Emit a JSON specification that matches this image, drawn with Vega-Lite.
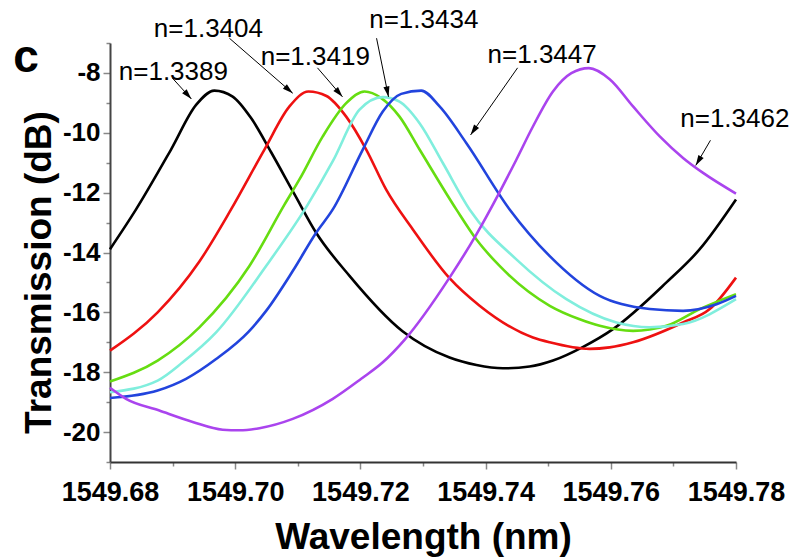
{
  "$schema": "https://vega.github.io/schema/vega-lite/v6.json",
  "width": 626,
  "height": 419,
  "autosize": {"type": "none"},
  "padding": {"left": 110, "top": 43, "right": 73, "bottom": 95},
  "background": "white",
  "config": {
    "view": {"stroke": null},
    "font": "Liberation Sans",
    "locale": {"number": {"decimal": ".", "thousands": ",", "grouping": [3], "currency": ["$", ""], "minus": "-"}}
  },
  "datasets": {
    "curves": [
      {"series": "n=1.3389", "wl": 1549.68000, "t": -13.89},
      {"series": "n=1.3389", "wl": 1549.68416, "t": -12.56},
      {"series": "n=1.3389", "wl": 1549.68975, "t": -10.56},
      {"series": "n=1.3389", "wl": 1549.69375, "t": -9.07},
      {"series": "n=1.3389", "wl": 1549.69667, "t": -8.59},
      {"series": "n=1.3389", "wl": 1549.69960, "t": -8.79},
      {"series": "n=1.3389", "wl": 1549.70254, "t": -9.51},
      {"series": "n=1.3389", "wl": 1549.70574, "t": -10.65},
      {"series": "n=1.3389", "wl": 1549.70946, "t": -12.05},
      {"series": "n=1.3389", "wl": 1549.71293, "t": -13.34},
      {"series": "n=1.3389", "wl": 1549.71826, "t": -14.78},
      {"series": "n=1.3389", "wl": 1549.72673, "t": -16.63},
      {"series": "n=1.3389", "wl": 1549.73424, "t": -17.51},
      {"series": "n=1.3389", "wl": 1549.73854, "t": -17.76},
      {"series": "n=1.3389", "wl": 1549.74276, "t": -17.87},
      {"series": "n=1.3389", "wl": 1549.74703, "t": -17.81},
      {"series": "n=1.3389", "wl": 1549.75076, "t": -17.61},
      {"series": "n=1.3389", "wl": 1549.75551, "t": -17.16},
      {"series": "n=1.3389", "wl": 1549.76035, "t": -16.56},
      {"series": "n=1.3389", "wl": 1549.76889, "t": -15.00},
      {"series": "n=1.3389", "wl": 1549.77421, "t": -13.89},
      {"series": "n=1.3389", "wl": 1549.78000, "t": -12.23},

      {"series": "n=1.3404", "wl": 1549.68000, "t": -17.28},
      {"series": "n=1.3404", "wl": 1549.68761, "t": -16.00},
      {"series": "n=1.3404", "wl": 1549.69428, "t": -14.30},
      {"series": "n=1.3404", "wl": 1549.69934, "t": -12.56},
      {"series": "n=1.3404", "wl": 1549.70467, "t": -10.56},
      {"series": "n=1.3404", "wl": 1549.70867, "t": -9.12},
      {"series": "n=1.3404", "wl": 1549.71170, "t": -8.62},
      {"series": "n=1.3404", "wl": 1549.71458, "t": -8.77},
      {"series": "n=1.3404", "wl": 1549.71773, "t": -9.46},
      {"series": "n=1.3404", "wl": 1549.72093, "t": -10.56},
      {"series": "n=1.3404", "wl": 1549.72412, "t": -11.90},
      {"series": "n=1.3404", "wl": 1549.72838, "t": -13.23},
      {"series": "n=1.3404", "wl": 1549.73424, "t": -14.86},
      {"series": "n=1.3404", "wl": 1549.73904, "t": -15.78},
      {"series": "n=1.3404", "wl": 1549.74756, "t": -16.84},
      {"series": "n=1.3404", "wl": 1549.75023, "t": -17.00},
      {"series": "n=1.3404", "wl": 1549.75663, "t": -17.22},
      {"series": "n=1.3404", "wl": 1549.75982, "t": -17.17},
      {"series": "n=1.3404", "wl": 1549.76355, "t": -17.00},
      {"series": "n=1.3404", "wl": 1549.77154, "t": -16.34},
      {"series": "n=1.3404", "wl": 1549.77581, "t": -15.89},
      {"series": "n=1.3404", "wl": 1549.78000, "t": -14.84},

      {"series": "n=1.3419", "wl": 1549.68000, "t": -18.31},
      {"series": "n=1.3419", "wl": 1549.68761, "t": -17.61},
      {"series": "n=1.3419", "wl": 1549.69428, "t": -16.50},
      {"series": "n=1.3419", "wl": 1549.70227, "t": -14.45},
      {"series": "n=1.3419", "wl": 1549.70787, "t": -12.40},
      {"series": "n=1.3419", "wl": 1549.71026, "t": -11.56},
      {"series": "n=1.3419", "wl": 1549.71399, "t": -10.12},
      {"series": "n=1.3419", "wl": 1549.71773, "t": -9.01},
      {"series": "n=1.3419", "wl": 1549.72066, "t": -8.62},
      {"series": "n=1.3419", "wl": 1549.72333, "t": -8.84},
      {"series": "n=1.3419", "wl": 1549.72625, "t": -9.46},
      {"series": "n=1.3419", "wl": 1549.72945, "t": -10.56},
      {"series": "n=1.3419", "wl": 1549.73532, "t": -12.56},
      {"series": "n=1.3419", "wl": 1549.73851, "t": -13.56},
      {"series": "n=1.3419", "wl": 1549.74224, "t": -14.45},
      {"series": "n=1.3419", "wl": 1549.75025, "t": -15.78},
      {"series": "n=1.3419", "wl": 1549.75503, "t": -16.23},
      {"series": "n=1.3419", "wl": 1549.75823, "t": -16.45},
      {"series": "n=1.3419", "wl": 1549.76355, "t": -16.62},
      {"series": "n=1.3419", "wl": 1549.76889, "t": -16.45},
      {"series": "n=1.3419", "wl": 1549.77421, "t": -15.89},
      {"series": "n=1.3419", "wl": 1549.78000, "t": -15.39},

      {"series": "n=1.3434", "wl": 1549.68000, "t": -18.67},
      {"series": "n=1.3434", "wl": 1549.68761, "t": -18.28},
      {"series": "n=1.3434", "wl": 1549.69161, "t": -17.67},
      {"series": "n=1.3434", "wl": 1549.69695, "t": -16.67},
      {"series": "n=1.3434", "wl": 1549.70494, "t": -14.45},
      {"series": "n=1.3434", "wl": 1549.71159, "t": -12.40},
      {"series": "n=1.3434", "wl": 1549.71559, "t": -10.95},
      {"series": "n=1.3434", "wl": 1549.71986, "t": -9.23},
      {"series": "n=1.3434", "wl": 1549.72358, "t": -8.81},
      {"series": "n=1.3434", "wl": 1549.72625, "t": -8.96},
      {"series": "n=1.3434", "wl": 1549.72945, "t": -9.68},
      {"series": "n=1.3434", "wl": 1549.73317, "t": -11.01},
      {"series": "n=1.3434", "wl": 1549.73744, "t": -12.56},
      {"series": "n=1.3434", "wl": 1549.74491, "t": -14.23},
      {"series": "n=1.3434", "wl": 1549.75290, "t": -15.56},
      {"series": "n=1.3434", "wl": 1549.76090, "t": -16.34},
      {"series": "n=1.3434", "wl": 1549.76622, "t": -16.50},
      {"series": "n=1.3434", "wl": 1549.77154, "t": -16.39},
      {"series": "n=1.3434", "wl": 1549.78000, "t": -15.56},

      {"series": "n=1.3447", "wl": 1549.68000, "t": -18.86},
      {"series": "n=1.3447", "wl": 1549.68761, "t": -18.61},
      {"series": "n=1.3447", "wl": 1549.69215, "t": -18.22},
      {"series": "n=1.3447", "wl": 1549.69695, "t": -17.56},
      {"series": "n=1.3447", "wl": 1549.70212, "t": -16.65},
      {"series": "n=1.3447", "wl": 1549.70494, "t": -15.95},
      {"series": "n=1.3447", "wl": 1549.70919, "t": -14.62},
      {"series": "n=1.3447", "wl": 1549.71293, "t": -13.34},
      {"series": "n=1.3447", "wl": 1549.71559, "t": -12.56},
      {"series": "n=1.3447", "wl": 1549.72038, "t": -10.56},
      {"series": "n=1.3447", "wl": 1549.72358, "t": -9.29},
      {"series": "n=1.3447", "wl": 1549.72652, "t": -8.70},
      {"series": "n=1.3447", "wl": 1549.72972, "t": -8.59},
      {"series": "n=1.3447", "wl": 1549.73265, "t": -9.12},
      {"series": "n=1.3447", "wl": 1549.73691, "t": -10.34},
      {"series": "n=1.3447", "wl": 1549.74384, "t": -12.56},
      {"series": "n=1.3447", "wl": 1549.75025, "t": -14.12},
      {"series": "n=1.3447", "wl": 1549.75823, "t": -15.45},
      {"series": "n=1.3447", "wl": 1549.76622, "t": -15.89},
      {"series": "n=1.3447", "wl": 1549.77154, "t": -15.95},
      {"series": "n=1.3447", "wl": 1549.77689, "t": -15.73},
      {"series": "n=1.3447", "wl": 1549.78000, "t": -15.45},

      {"series": "n=1.3462", "wl": 1549.68000, "t": -18.52},
      {"series": "n=1.3462", "wl": 1549.68256, "t": -18.89},
      {"series": "n=1.3462", "wl": 1549.68788, "t": -19.28},
      {"series": "n=1.3462", "wl": 1549.69321, "t": -19.66},
      {"series": "n=1.3462", "wl": 1549.69800, "t": -19.92},
      {"series": "n=1.3462", "wl": 1549.70067, "t": -19.94},
      {"series": "n=1.3462", "wl": 1549.70387, "t": -19.87},
      {"series": "n=1.3462", "wl": 1549.70919, "t": -19.56},
      {"series": "n=1.3462", "wl": 1549.71559, "t": -18.89},
      {"series": "n=1.3462", "wl": 1549.72013, "t": -18.22},
      {"series": "n=1.3462", "wl": 1549.72358, "t": -17.67},
      {"series": "n=1.3462", "wl": 1549.72705, "t": -16.92},
      {"series": "n=1.3462", "wl": 1549.73424, "t": -14.84},
      {"series": "n=1.3462", "wl": 1549.73851, "t": -13.40},
      {"series": "n=1.3462", "wl": 1549.74224, "t": -11.98},
      {"series": "n=1.3462", "wl": 1549.74491, "t": -10.90},
      {"series": "n=1.3462", "wl": 1549.74756, "t": -9.79},
      {"series": "n=1.3462", "wl": 1549.75076, "t": -8.62},
      {"series": "n=1.3462", "wl": 1549.75370, "t": -8.01},
      {"series": "n=1.3462", "wl": 1549.75651, "t": -7.84},
      {"series": "n=1.3462", "wl": 1549.75982, "t": -8.21},
      {"series": "n=1.3462", "wl": 1549.76355, "t": -9.12},
      {"series": "n=1.3462", "wl": 1549.76782, "t": -10.12},
      {"series": "n=1.3462", "wl": 1549.77154, "t": -10.84},
      {"series": "n=1.3462", "wl": 1549.77474, "t": -11.34},
      {"series": "n=1.3462", "wl": 1549.78000, "t": -12.03}
    ],
    "labels": [
      {"label": "n=1.3389", "wl": 1549.69012, "t": -8.23},
      {"label": "n=1.3404", "wl": 1549.69572, "t": -6.79},
      {"label": "n=1.3419", "wl": 1549.71279, "t": -7.73},
      {"label": "n=1.3434", "wl": 1549.73012, "t": -6.51},
      {"label": "n=1.3447", "wl": 1549.74903, "t": -7.68},
      {"label": "n=1.3462", "wl": 1549.77981, "t": -9.82}
    ],
    "arrows": [
      {"label": "n=1.3389", "wl": 1549.68996, "t": -8.17, "wl2": 1549.69300, "t2": -8.87},
      {"label": "n=1.3404", "wl": 1549.69907, "t": -6.84, "wl2": 1549.70919, "t2": -8.68},
      {"label": "n=1.3419", "wl": 1549.71314, "t": -7.83, "wl2": 1549.71714, "t2": -8.80},
      {"label": "n=1.3434", "wl": 1549.72258, "t": -6.84, "wl2": 1549.72449, "t2": -8.80},
      {"label": "n=1.3447", "wl": 1549.74511, "t": -7.83, "wl2": 1549.73760, "t2": -10.07},
      {"label": "n=1.3462", "wl": 1549.77592, "t": -10.25, "wl2": 1549.77357, "t2": -11.09}
    ],
    "panel": [
      {"text": "c", "wl": 1549.6666, "t": -7.97}
    ]
  },
  "layer": [
    {
      "data": {"name": "curves"},
      "mark": {"type": "line", "strokeWidth": 2.6, "interpolate": "monotone"},
      "encoding": {
        "x": {
          "field": "wl", "type": "quantitative",
          "scale": {"domain": [1549.68, 1549.78], "nice": false, "zero": false},
          "axis": {
            "title": "Wavelength (nm)",
            "values": [1549.68, 1549.69, 1549.7, 1549.71, 1549.72, 1549.73, 1549.74, 1549.75, 1549.76, 1549.77, 1549.78],
            "tickCount": 11,
            "labelExpr": "round(datum.value * 100) % 2 == 0 ? format(datum.value, '.2f') : ''",
            "labelFont": "Liberation Sans", "labelFontSize": 27, "labelFontWeight": "bold", "labelColor": "#000000",
            "labelPadding": 10, "labelFlush": false, "labelOverlap": false, "labelBound": false,
            "tickSize": {"condition": {"test": "round(datum.value * 100) % 2 == 0", "value": 7}, "value": 4},
            "tickColor": "#888888", "tickWidth": 1.5,
            "domainColor": "#333333", "domainWidth": 2, "grid": false,
            "titleFont": "Liberation Sans", "titleFontSize": 37, "titleFontWeight": "bold", "titleColor": "#000000",
            "titleY": 86, "titleBaseline": "alphabetic"
          }
        },
        "y": {
          "field": "t", "type": "quantitative",
          "scale": {"domain": [-21, -7], "nice": false, "zero": false},
          "axis": {
            "title": "Transmission (dB)",
            "values": [-21, -20, -19, -18, -17, -16, -15, -14, -13, -12, -11, -10, -9, -8, -7],
            "tickCount": 15,
            "format": "d",
            "labelExpr": "abs(round(datum.value)) % 2 == 0 ? datum.label : ''",
            "labelFont": "Liberation Sans", "labelFontSize": 26, "labelFontWeight": "bold", "labelColor": "#000000",
            "labelPadding": 3, "labelOverlap": false, "labelBound": false, "labelFlush": false,
            "tickSize": {"condition": {"test": "abs(round(datum.value)) % 2 == 0", "value": 7}, "value": 4},
            "tickColor": "#888888", "tickWidth": 1.5,
            "domainColor": "#444444", "domainWidth": 2, "grid": false,
            "titleFont": "Liberation Sans", "titleFontSize": 37, "titleFontWeight": "bold", "titleColor": "#000000",
            "titleX": -60, "titleY": 229, "titleAngle": 270, "titleAlign": "center", "titleBaseline": "alphabetic"
          }
        },
        "color": {
          "field": "series", "type": "nominal",
          "scale": {
            "domain": ["n=1.3389", "n=1.3404", "n=1.3419", "n=1.3434", "n=1.3447", "n=1.3462"],
            "range": ["#000000", "#ee1111", "#66dd11", "#80eedd", "#2244dd", "#aa44ee"]
          },
          "legend": null
        }
      }
    },
    {
      "data": {"name": "arrows"},
      "mark": {"type": "rule", "color": "#000000", "strokeWidth": 1},
      "encoding": {
        "x": {"field": "wl", "type": "quantitative", "title": "Wavelength (nm)"},
        "y": {"field": "t", "type": "quantitative", "title": "Transmission (dB)"},
        "x2": {"field": "wl2"},
        "y2": {"field": "t2"}
      }
    },
    {
      "data": {"name": "arrows"},
      "transform": [{"filter": "datum.label == 'n=1.3389'"}],
      "mark": {"type": "point", "shape": "M0,0L-0.5,1.7L0.5,1.7Z", "filled": true, "color": "#000000", "opacity": 1, "size": 150, "angle": 137.9},
      "encoding": {
        "x": {"field": "wl2", "type": "quantitative", "title": "Wavelength (nm)"},
        "y": {"field": "t2", "type": "quantitative", "title": "Transmission (dB)"}
      }
    },
    {
      "data": {"name": "arrows"},
      "transform": [{"filter": "datum.label == 'n=1.3404'"}],
      "mark": {"type": "point", "shape": "M0,0L-0.5,1.7L0.5,1.7Z", "filled": true, "color": "#000000", "opacity": 1, "size": 150, "angle": 131.1},
      "encoding": {
        "x": {"field": "wl2", "type": "quantitative", "title": "Wavelength (nm)"},
        "y": {"field": "t2", "type": "quantitative", "title": "Transmission (dB)"}
      }
    },
    {
      "data": {"name": "arrows"},
      "transform": [{"filter": "datum.label == 'n=1.3419'"}],
      "mark": {"type": "point", "shape": "M0,0L-0.5,1.7L0.5,1.7Z", "filled": true, "color": "#000000", "opacity": 1, "size": 150, "angle": 139.2},
      "encoding": {
        "x": {"field": "wl2", "type": "quantitative", "title": "Wavelength (nm)"},
        "y": {"field": "t2", "type": "quantitative", "title": "Transmission (dB)"}
      }
    },
    {
      "data": {"name": "arrows"},
      "transform": [{"filter": "datum.label == 'n=1.3434'"}],
      "mark": {"type": "point", "shape": "M0,0L-0.5,1.7L0.5,1.7Z", "filled": true, "color": "#000000", "opacity": 1, "size": 150, "angle": 168.5},
      "encoding": {
        "x": {"field": "wl2", "type": "quantitative", "title": "Wavelength (nm)"},
        "y": {"field": "t2", "type": "quantitative", "title": "Transmission (dB)"}
      }
    },
    {
      "data": {"name": "arrows"},
      "transform": [{"filter": "datum.label == 'n=1.3447'"}],
      "mark": {"type": "point", "shape": "M0,0L-0.5,1.7L0.5,1.7Z", "filled": true, "color": "#000000", "opacity": 1, "size": 150, "angle": 215},
      "encoding": {
        "x": {"field": "wl2", "type": "quantitative", "title": "Wavelength (nm)"},
        "y": {"field": "t2", "type": "quantitative", "title": "Transmission (dB)"}
      }
    },
    {
      "data": {"name": "arrows"},
      "transform": [{"filter": "datum.label == 'n=1.3462'"}],
      "mark": {"type": "point", "shape": "M0,0L-0.5,1.7L0.5,1.7Z", "filled": true, "color": "#000000", "opacity": 1, "size": 150, "angle": 210.5},
      "encoding": {
        "x": {"field": "wl2", "type": "quantitative", "title": "Wavelength (nm)"},
        "y": {"field": "t2", "type": "quantitative", "title": "Transmission (dB)"}
      }
    },
    {
      "data": {"name": "labels"},
      "mark": {"type": "text", "font": "Liberation Sans", "fontSize": 26, "fontWeight": "normal", "align": "center", "baseline": "alphabetic", "color": "#000000"},
      "encoding": {
        "x": {"field": "wl", "type": "quantitative", "title": "Wavelength (nm)"},
        "y": {"field": "t", "type": "quantitative", "title": "Transmission (dB)"},
        "text": {"field": "label"}
      }
    },
    {
      "data": {"name": "panel"},
      "mark": {"type": "text", "font": "Liberation Sans", "fontSize": 46, "fontWeight": "bold", "align": "center", "baseline": "alphabetic", "color": "#000000"},
      "encoding": {
        "x": {"field": "wl", "type": "quantitative", "title": "Wavelength (nm)"},
        "y": {"field": "t", "type": "quantitative", "title": "Transmission (dB)"},
        "text": {"field": "text"}
      }
    }
  ]
}
